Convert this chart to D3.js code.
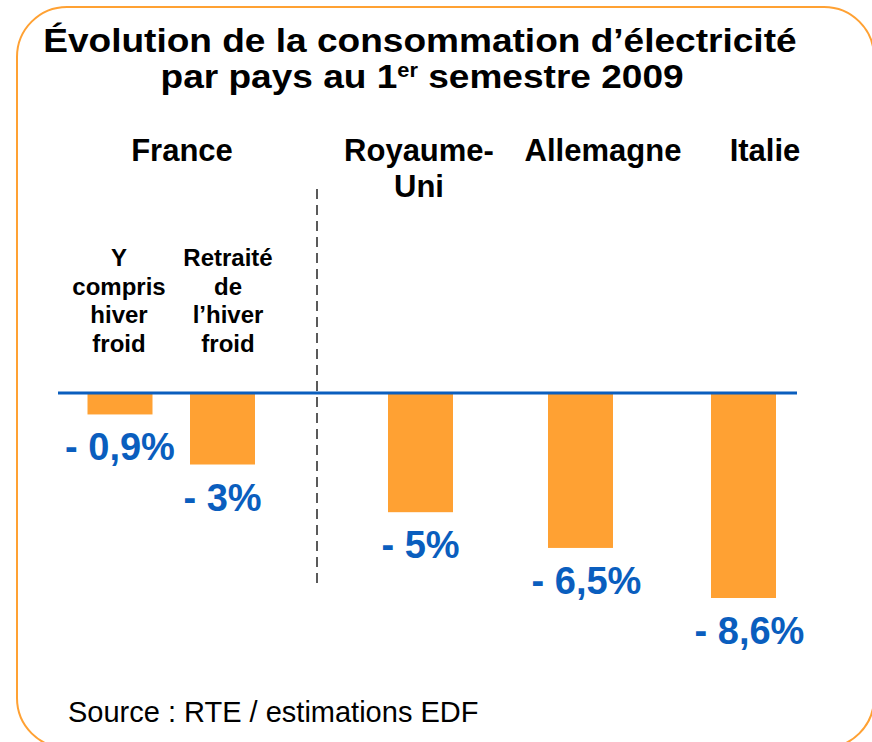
<!DOCTYPE html>
<html>
<head>
<meta charset="utf-8">
<script src="https://cdn.jsdelivr.net/npm/d3@7"></script>
<style>
  body { margin: 0; background: #fff; }
  text { font-family: "Liberation Sans", Arial, sans-serif; }
</style>
</head>
<body>
<div id="d3-container"></div>
<script>
// data
const countries = ["France", "Royaume-Uni", "Allemagne", "Italie"];
const barKeys = ["France (Y compris hiver froid)", "France (Retraité de l'hiver froid)", "Royaume-Uni", "Allemagne", "Italie"];
const values = [-0.9, -3, -5, -6.5, -8.6];
const valueLabels = ["- 0,9%", "- 3%", "- 5%", "- 6,5%", "- 8,6%"];
const franceSubLabels = [
  ["Y", "compris", "hiver", "froid"],
  ["Retraité", "de", "l\u2019hiver", "froid"]
];
const countryLabels = [["France"], ["Royaume-", "Uni"], ["Allemagne"], ["Italie"]];

const w = 872;
const h = 742;
const orange = "#FFA133";
const blue = "#0A5EBE";

const svg = d3.select("#d3-container")
  .append("svg")
  .attr("width", w)
  .attr("height", h)
  .attr("id", "chart");

// rounded frame (runs off the right / bottom edge like the slide)
svg.append("rect")
  .attr("x", 17)
  .attr("y", 7)
  .attr("width", 857)
  .attr("height", 741)
  .attr("rx", 50)
  .attr("fill", "none")
  .attr("stroke", orange)
  .attr("stroke-width", 2);

// title (slightly widened like the slide text)
const title = svg.append("text")
  .attr("text-anchor", "middle")
  .attr("transform", "translate(421,0) scale(1.09,1) translate(-421,0)")
  .style("font-weight", "bold")
  .style("font-size", "34px")
  .attr("fill", "#000");
title.append("tspan").attr("x", 420).attr("y", 52)
  .text("Évolution de la consommation d\u2019électricité");
const t2 = title.append("tspan").attr("x", 422).attr("y", 88);
t2.text("par pays au 1");
title.append("tspan").attr("dy", -11).style("font-size", "20px").text("er");
title.append("tspan").attr("dy", 11).text(" semestre 2009");

// scales
const y = d3.scaleLinear().domain([0, -8.6]).range([393, 598]);
const x = d3.scaleOrdinal().domain(barKeys).range([120, 222.5, 420.5, 580.5, 743.5]);
const xCountry = d3.scaleOrdinal().domain(countries).range([182, 419, 603, 765]);
const xSub = d3.scaleOrdinal().domain([0, 1]).range([119, 228]);
const barW = 65;

// country headers
countryLabels.forEach(function(lines, i) {
  const t = svg.append("text")
    .attr("text-anchor", "middle")
    .style("font-weight", "bold")
    .style("font-size", "31px");
  lines.forEach(function(l, j) {
    t.append("tspan").attr("x", xCountry(countries[i])).attr("y", 161 + j * 36).text(l);
  });
});

// France sub headers
franceSubLabels.forEach(function(lines, i) {
  const t = svg.append("text")
    .attr("text-anchor", "middle")
    .style("font-weight", "bold")
    .style("font-size", "24px");
  lines.forEach(function(l, j) {
    t.append("tspan").attr("x", xSub(i)).attr("y", 266 + j * 28.7).text(l);
  });
});

// dashed separator
svg.append("line")
  .attr("x1", 317).attr("x2", 317)
  .attr("y1", 189).attr("y2", 585)
  .attr("stroke", "#5a5a5a")
  .attr("stroke-width", 2)
  .attr("stroke-dasharray", "10,6");

// bars
svg.selectAll(".bar")
  .data(values)
  .join("rect")
  .attr("class", "bar")
  .attr("x", (v, i) => x(barKeys[i]) - barW / 2)
  .attr("y", y(0))
  .attr("width", barW)
  .attr("height", v => y(v) - y(0))
  .attr("fill", orange);

// zero line
svg.append("line")
  .attr("x1", 58).attr("x2", 797)
  .attr("y1", y(0)).attr("y2", y(0))
  .attr("stroke", blue)
  .attr("stroke-width", 3);

// value labels
svg.selectAll(".val")
  .data(values)
  .join("text")
  .attr("class", "val")
  .attr("x", (v, i) => x(barKeys[i]) + (i > 2 ? 6 : 0))
  .attr("y", v => y(v) + 46)
  .attr("text-anchor", "middle")
  .style("font-weight", "bold")
  .style("font-size", "38px")
  .attr("fill", blue)
  .text((v, i) => valueLabels[i]);

// source
svg.append("text")
  .attr("x", 68)
  .attr("y", 722)
  .style("font-size", "29px")
  .attr("fill", "#000")
  .text("Source : RTE / estimations EDF");
</script>
</body>
</html>
